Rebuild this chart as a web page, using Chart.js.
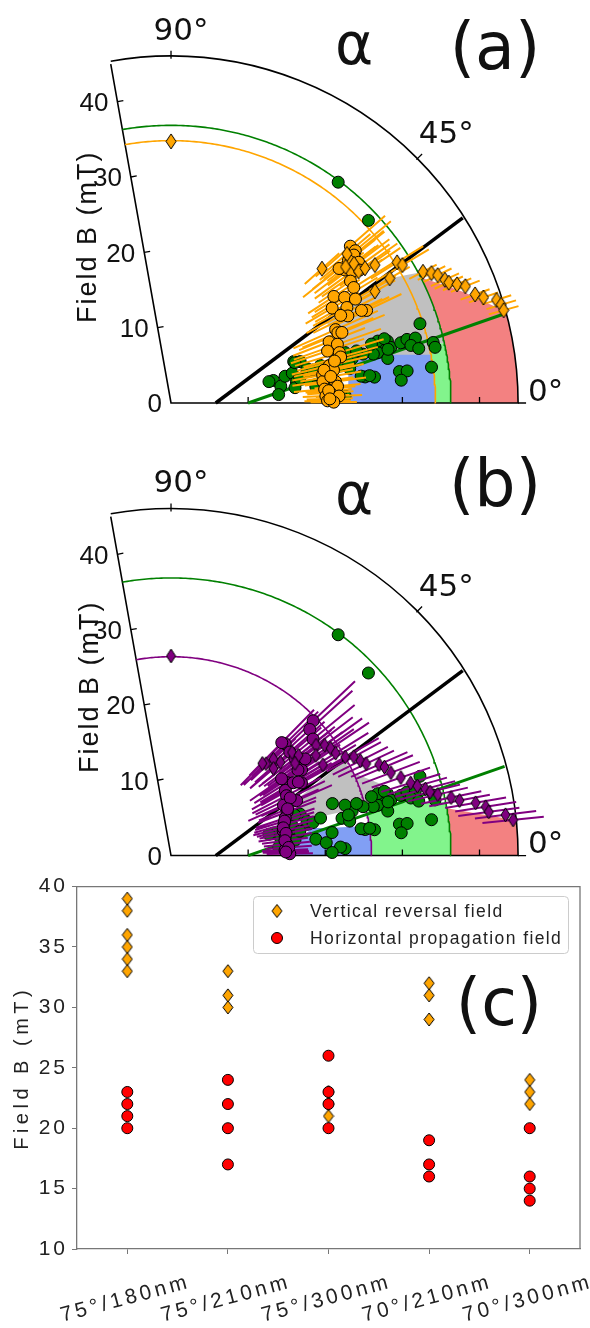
<!DOCTYPE html>
<html>
<head>
<meta charset="utf-8">
<script src="https://cdn.jsdelivr.net/npm/chart.js@4.4.1/dist/chart.umd.min.js"></script>
<style>
  html, body { margin: 0; padding: 0; background: #fff; }
  body { width: 590px; height: 1328px; position: relative; overflow: hidden; }
  canvas { position: absolute; left: 0; }
  #ca { top: 0; }
  #cb { top: 440px; }
  #cc { top: 870px; }
</style>
</head>
<body>
<canvas id="ca" width="590" height="440"></canvas>
<canvas id="cb" width="590" height="440"></canvas>
<canvas id="cc" width="590" height="458"></canvas>
<script>
// ---------------- DATA (polar: angle in degrees, field B in mT) ----------------
const radialTicks = [0, 10, 20, 30, 40];
const angleTicks = [0, 45, 90];
const rMax = 45;
const thetaMax = 100;

// fitted arcs (field B in mT)
const greenArcB = 36.3;
const orangeArcB = 34.3;
const purpleArcB = 26.0;

// straight guide lines (two end points each)
const blackLineAngle = [0, 32.6];
const blackLineB = [5.8, 44.9];
const greenLineAngle = [0, 15.1];
const greenLineB = [10.0, 44.8];

// panel (a) orange circles with radial error
const orangeCircleAngle = [41.4,39.8,39.2,39.0,37.6,38.9,36.2,37.1,35.4,34.4,32.5,33.4,31.5,29.6,30.7,28.7,26.4,25.5,26.1,24.2,23.0,22.6,21.3,19.6,18.5,16.8,15.3,13.4,11.5,10.6,7.5,8.1,5.8,5.2,3.7,2.6,2.4,0.8,0.3,27.5,14.5,12.2,9.5,4.5,1.5];
const orangeCircleB = [31.0,31.1,30.6,29.6,28.5,28.0,29.1,30.5,30.0,28.2,28.1,25.3,26.4,27.5,24.3,26.0,25.6,28.1,27.5,23.4,23.5,24.0,22.0,22.9,21.4,22.8,22.8,21.1,21.5,20.0,21.5,19.9,21.7,20.0,20.7,20.1,21.8,20.3,21.1,24.8,21.9,20.3,21.0,20.5,20.6];
const orangeCircleErr = [6,6,5,6,5,6,6,5,6,5,6,4,5,6,4,5,5,5,4,6,5,6,5,6,5,6,5,5,4,4,4,4,3,4,3,3,3,3,3,5,5,4,4,3,3];

// panel (a) orange diamonds with radial error
const orangeDiamondAngle = [90,41.9,40.5,38.2,37.5,35.3,35.0,34.3,28.9,29.9,32.1,31.0,27.7,26.7,25.8,24.4,23.6,22.7,21.8,19.8,18.8,17.7,16.7,15.7];
const orangeDiamondB = [34.2,26.3,30.0,28.8,29.9,29.8,30.7,32.0,30.2,32.7,34.6,35.0,36.9,37.8,38.4,39.0,39.3,40.2,41.1,41.9,42.8,44.3,44.7,44.8];
const orangeDiamondErr = [0,3,4,3,4,3,4,4,3,3,4,4,2,2,2,2,2,2,2,2,2,2,2,2];

// green circles (both panels)
const greenCircleAngle = [53.1,43.0,12.5,8.8,13.3,13.9,9.7,17.9,7.1,13.1,2.3,7.7,7.3,15.9,16.1,14.3,14.8,13.8,11.7,16.8,16.9,14.8,15.2,15.0,13.6,12.5,13.1,12.0,17.8,7.9,7.8,5.7,7.9,13.7,8.1,7.9,12.4,4.5,18.8,13.0,13.9,14.4,14.0,18.0,16.3,15.8,6.5,4.8,8.2,2.9,1.1,10.8,14.3,18.2,13.2,14.2,12.4,11.0,13.0,16.5];
const greenCircleB = [36.1,35.0,13.6,14.4,15.2,16.2,16.5,17.6,16.2,18.1,22.6,25.4,26.6,28.1,29.2,29.4,31.2,27.6,28.7,28.0,28.9,30.8,31.7,32.8,32.0,32.9,34.9,35.0,33.9,29.9,30.9,30.0,34.1,27.0,24.9,26.0,13.0,14.0,16.8,18.3,24.2,25.7,29.0,22.0,23.5,25.0,18.9,20.2,21.1,22.0,20.9,17.0,18.2,16.9,18.9,20.0,22.7,23.6,23.6,27.1];

// panel (b) purple circles with radial error
const purpleCircleAngle = [43.7,42.5,39.6,44.6,41.3,38.3,33.5,32.4,29.3,29.9,23.8,27.6,24.3,20.8,18.3,15.5,12.4,9.2,5.7,2.7,0.9,36.0,31.0,26.0,22.0,17.0,14.0,11.0,7.5,4.0,1.8,45.8,34.2,30.2,35.0];
const purpleCircleB = [25.5,24.4,23.9,20.8,20.5,20.5,20.3,17.8,19.4,17.1,17.8,16.9,16.0,16.1,15.6,15.2,14.9,15.0,15.1,14.8,15.4,21.5,18.5,17.2,16.3,15.4,15.0,15.2,14.9,15.3,14.9,20.6,19.9,19.1,17.5];
const purpleCircleErr = [7.5,7.5,7,6,6,6,6,5,6,5,5,5,5,4,4,4,3.5,3.5,3,3,3,6,5,5,4,4,4,3.5,3,3,3,6,6,5,5];

// panel (b) purple diamonds with radial error
const purpleDiamondAngle = [90,44.3,43.5,40.7,40.7,38.4,36.9,37.5,35.9,34.1,32.1,29.7,28.6,31.1,34.9,45.5,40.6,26.8,25.4,23.8,22.7,20.8,18.9,17.0,15.9,14.8,13.9,13.0,11.8,10.9,9.9,8.9,7.9,7.0,6.0];
const purpleDiamondB = [26.1,17.2,18.3,18.7,20.7,21.1,20.1,23.7,24.6,25.0,25.2,26.0,27.0,23.0,22.9,16.9,17.5,27.5,28.0,29.5,30.0,30.5,31.5,32.5,33.2,34.1,34.6,35.5,37.1,38.1,40.1,41.3,41.6,43.7,44.6];
const purpleDiamondErr = [0,4,4,5,5,6,5,6,6,6,5,5,4,5,6,4,4,4,4,4,4,4,4,4,4,4,4,4,4,4,4,4,4,4,4];

// shaded regions (polygon vertices: angle, B)
const grayA_angle = [15.6,10.4,13.1,12.4,28.0,28.9,30.6,28.3];
const grayA_B     = [23.0,34.3,34.3,36.3,36.3,34.5,31.5,22.8];
const blueA_angle = [0,14.1,13.5,12.7,11.5,10.6,0];
const blueA_B     = [23.0,23.7,25.7,28.7,31.6,34.3,34.3];
const lgreenA_angle = [0,13.1,12.4,0];
const lgreenA_B     = [34.3,34.3,36.3,36.3];
const redA_angle = [0,26.8,23.7,20.7,17.9,15.5,0];
const redA_B     = [36.3,36.3,38.5,40.8,42.8,45,45];

const grayB_angle = [24.5,28.8,24.5,18.1,14.7,14.4,14.9,17.6];
const grayB_B     = [18.3,25.6,26.0,29.3,26.9,23.3,19.0,17.5];
const blueB_angle = [0,6.1,11.1,10.2,8.9,8.0,0];
const blueB_B     = [15.4,16.0,18.75,20.4,24.6,26.0,26.0];
const lgreenB_angle = [0,15.2,11.1,0];
const lgreenB_B     = [26.0,26.0,36.3,36.3];
const redB_angle = [0,9.8,5.9,0];
const redB_B     = [36.3,36.3,45,45];

// panel (c)
const categories = ['75°/180nm', '75°/210nm', '75°/300nm', '70°/210nm', '70°/300nm'];
const reversalField = [[39,38,36,35,34,33],[33,31,30],[23,22,21],[32,31,29],[24,23,22]];
const propagationField = [[23,22,21,20],[24,22,20,17],[26,23,22,20],[19,17,16],[20,16,15,14]];
const yMinC = 10, yMaxC = 40, yStepC = 5;

// ---------------- helpers ----------------
const DEG = Math.PI / 180;
const S = 7.9; // px per mT in polar panels
function toXY(a, b) { return { x: b * Math.cos(a * DEG), y: b * Math.sin(a * DEG) }; }
function pts(angles, Bs) { return angles.map((a, i) => toXY(a, Bs[i])); }
function arcPts(B, a0, a1) {
  const n = Math.max(2, Math.ceil(Math.abs(a1 - a0) / 0.5) + 1), out = [];
  for (let k = 0; k < n; k++) out.push(toXY(a0 + (a1 - a0) * k / (n - 1), B));
  return out;
}
function regionPts(angles, Bs) {
  const out = [], n = angles.length;
  for (let i = 0; i < n; i++) {
    const j = (i + 1) % n;
    if (Bs[i] === Bs[j] && angles[i] !== angles[j]) {
      const arc = arcPts(Bs[i], angles[i], angles[j]);
      arc.pop();
      out.push(...arc);
    } else out.push(toXY(angles[i], Bs[i]));
  }
  out.push(out[0]);
  return out;
}
function errPts(angles, Bs, errs) {
  const out = [];
  angles.forEach((a, i) => {
    if (!errs[i]) return;
    out.push(toXY(a, Bs[i] - errs[i]), toXY(a, Bs[i] + errs[i]), { x: null, y: null });
  });
  return out;
}
function diamondImg(w, h, fill) {
  const c = document.createElement('canvas');
  c.width = w + 2; c.height = h + 2;
  const g = c.getContext('2d');
  g.beginPath();
  g.moveTo(c.width / 2, 1); g.lineTo(c.width - 1, c.height / 2);
  g.lineTo(c.width / 2, c.height - 1); g.lineTo(1, c.height / 2); g.closePath();
  g.fillStyle = fill; g.fill();
  g.lineWidth = 1; g.strokeStyle = '#000'; g.stroke();
  return c;
}
function txt(ctx, s, x, y, o) {
  ctx.save();
  ctx.translate(x, y);
  if (o.rot) ctx.rotate(o.rot * DEG);
  ctx.font = o.font; ctx.textAlign = o.align || 'left'; ctx.textBaseline = o.base || 'alphabetic';
  ctx.fillStyle = o.color || '#111';
  ctx.letterSpacing = o.ls || '0px';
  ctx.fillText(s, 0, 0);
  ctx.restore();
}

const COL = { gray: '#c0c0c0', blue: '#819ff4', lgreen: '#82f48c', red: '#f38181',
  orange: '#ffa500', green: '#008000', purple: '#800080', black: '#000000' };

// z: larger value -> drawn later (on top)
function fillDS(p, color, z, extra) { return Object.assign({ type: 'line', data: p, fill: 'shape', backgroundColor: color, borderWidth: 0, pointRadius: 0, tension: 0, order: 100 - z }, extra || {}); }
function lineDS(p, color, w, z, extra) { return Object.assign({ type: 'line', data: p, fill: false, borderColor: color, borderWidth: w, pointRadius: 0, tension: 0, order: 100 - z }, extra || {}); }
function markDS(p, style, color, r, z) { return { type: 'scatter', data: p, pointStyle: style, pointRadius: r, backgroundColor: color, borderColor: '#000', borderWidth: 1, order: 100 - z }; }

// ---------------- polar frame plugin ----------------
function P(chart, a, b) {
  return [chart.scales.x.getPixelForValue(b * Math.cos(a * DEG)), chart.scales.y.getPixelForValue(b * Math.sin(a * DEG))];
}
const polarFrame = {
  id: 'polarFrame',
  afterDatasetDraw(chart, args, o) {
    if (!chart.data.datasets[args.index].frameAfter) return;
    const ctx = chart.ctx;
    const [ox, oy] = P(chart, 0, 0);
    const R = P(chart, 0, o.rMax)[0] - ox;
    ctx.save();
    ctx.strokeStyle = '#000'; ctx.lineWidth = 1.6;
    ctx.beginPath();
    ctx.moveTo(...P(chart, o.thetaMax, o.rMax));
    ctx.lineTo(ox, oy);
    ctx.lineTo(ox + R, oy);
    ctx.arc(ox, oy, R, 0, -o.thetaMax * DEG, true);
    ctx.stroke();
    ctx.lineWidth = 1.3;
    ctx.beginPath();
    o.rTicks.forEach(r => {
      if (!r) return;
      const [bx, by] = P(chart, 0, r);
      ctx.moveTo(bx, by); ctx.lineTo(bx, by - 6);
      const [lx, ly] = P(chart, o.thetaMax, r);
      const d = (o.thetaMax - 90) * DEG;
      ctx.moveTo(lx, ly); ctx.lineTo(lx + 6 * Math.cos(d), ly - 6 * Math.sin(d));
    });
    o.aTicks.forEach(a => {
      const [tx, ty] = P(chart, a, o.rMax);
      ctx.moveTo(tx, ty); ctx.lineTo(tx + 8 * Math.cos(a * DEG), ty - 8 * Math.sin(a * DEG));
    });
    ctx.stroke();
    ctx.restore();
  },
  afterDraw(chart, args, o) {
    const ctx = chart.ctx;
    o.rTicks.forEach(r => {
      const [lx, ly] = P(chart, o.thetaMax, r);
      txt(ctx, String(r), lx - 9, ly + 9.3, { font: '26px "Liberation Sans"', align: 'right' });
    });
    o.aTicks.forEach(a => {
      const pos = o.aLabelPos[a];
      const [cx, cy] = P(chart, pos[0], pos[1]);
      txt(ctx, a + '°', cx, cy + 11.3, { font: '31px "DejaVu Sans"', align: 'center' });
    });
    txt(ctx, o.panel, o.panelPos[0], o.panelPos[1], { font: '65px "DejaVu Sans"', align: 'center' });
    txt(ctx, 'α', o.alphaPos[0], o.alphaPos[1], { font: '58px "DejaVu Sans"', align: 'center' });
    txt(ctx, 'Field B (mT)', o.titlePos[0], o.titlePos[1], { font: '27px "Liberation Sans"', rot: -90, ls: '2px' });
  }
};

const aLabelPos = { 90: [88.5, 49], 45: [44.8, 50.3], 0: [2.1, 48.6] };

function polarChart(id, originY, height, datasets, extra) {
  const W = 590, OX = 168;
  return new Chart(document.getElementById(id), {
    type: 'scatter',
    data: { datasets },
    options: {
      responsive: false, animation: false, events: [],
      layout: { padding: 0 },
      scales: {
        x: { type: 'linear', display: false, min: -OX / S, max: (W - OX) / S },
        y: { type: 'linear', display: false, min: -(height - originY) / S, max: originY / S }
      },
      plugins: {
        legend: { display: false }, tooltip: { enabled: false },
        polarFrame: Object.assign({ rMax, thetaMax, rTicks: radialTicks, aTicks: angleTicks, aLabelPos }, extra)
      }
    },
    plugins: [polarFrame]
  });
}

const diamondOrangeA = diamondImg(10, 15, COL.orange);
const diamondPurple = diamondImg(9, 14, COL.purple);
const diamondOrangeC = diamondImg(10, 13, COL.orange);

// ---------------- panel (a) ----------------
polarChart('ca', 409, 440, [
  fillDS(regionPts(grayA_angle, grayA_B), COL.gray, 1),
  fillDS(regionPts(blueA_angle, blueA_B), COL.blue, 2),
  fillDS(regionPts(lgreenA_angle, lgreenA_B), COL.lgreen, 3),
  fillDS(regionPts(redA_angle, redA_B), COL.red, 4, { frameAfter: true }),
  lineDS(arcPts(greenArcB, 0, thetaMax), COL.green, 1.6, 5),
  lineDS(arcPts(orangeArcB, 0, thetaMax), COL.orange, 1.6, 6),
  lineDS(pts(greenLineAngle, greenLineB), COL.green, 3, 7),
  lineDS(pts(blackLineAngle, blackLineB), COL.black, 3.5, 8),
  markDS(pts(greenCircleAngle, greenCircleB), 'circle', COL.green, 6, 9),
  lineDS(errPts(orangeCircleAngle, orangeCircleB, orangeCircleErr), COL.orange, 2, 10),
  lineDS(errPts(orangeDiamondAngle, orangeDiamondB, orangeDiamondErr), COL.orange, 2, 11),
  markDS(pts(orangeCircleAngle, orangeCircleB), 'circle', COL.orange, 6, 12),
  markDS(pts(orangeDiamondAngle, orangeDiamondB), diamondOrangeA, COL.orange, 6, 13)
], { panel: '(a)', panelPos: [495, 69], alphaPos: [354, 64], titlePos: [96, 323] });

// ---------------- panel (b) ----------------
polarChart('cb', 422, 440, [
  fillDS(regionPts(grayB_angle, grayB_B), COL.gray, 1),
  fillDS(regionPts(blueB_angle, blueB_B), COL.blue, 2),
  fillDS(regionPts(lgreenB_angle, lgreenB_B), COL.lgreen, 3),
  fillDS(regionPts(redB_angle, redB_B), COL.red, 4, { frameAfter: true }),
  lineDS(arcPts(greenArcB, 0, thetaMax), COL.green, 1.6, 5),
  lineDS(arcPts(purpleArcB, 0, thetaMax), COL.purple, 1.6, 6),
  lineDS(pts(greenLineAngle, greenLineB), COL.green, 3, 7),
  lineDS(pts(blackLineAngle, blackLineB), COL.black, 3.5, 8),
  markDS(pts(greenCircleAngle, greenCircleB), 'circle', COL.green, 6, 9),
  lineDS(errPts(purpleCircleAngle, purpleCircleB, purpleCircleErr), COL.purple, 2, 10),
  lineDS(errPts(purpleDiamondAngle, purpleDiamondB, purpleDiamondErr), COL.purple, 2, 11),
  markDS(pts(purpleCircleAngle, purpleCircleB), 'circle', COL.purple, 6, 12),
  markDS(pts(purpleDiamondAngle, purpleDiamondB), diamondPurple, COL.purple, 6, 13)
], { panel: '(b)', panelPos: [495, 66], alphaPos: [354, 74], titlePos: [98, 333] });

// ---------------- panel (c) ----------------
const revPts = [], propPts = [];
categories.forEach((c, i) => {
  reversalField[i].forEach(v => revPts.push({ x: c, y: v }));
  propagationField[i].forEach(v => propPts.push({ x: c, y: v }));
});

const panelC = {
  id: 'panelC',
  beforeDraw(chart) { chart.ctx.letterSpacing = '3px'; },
  afterDraw(chart) {
    const ctx = chart.ctx, a = chart.chartArea, xs = chart.scales.x;
    ctx.save();
    ctx.strokeStyle = '#777'; ctx.lineWidth = 1.3;
    ctx.beginPath(); ctx.moveTo(a.left, a.top); ctx.lineTo(a.right, a.top); ctx.lineTo(a.right, a.bottom); ctx.stroke();
    ctx.restore();
    // category labels
    chart.data.labels.forEach((lab, i) => {
      const px = xs.getPixelForTick(i);
      txt(ctx, lab, px - 2, 429, { font: '21px "Liberation Sans"', align: 'center', base: 'middle', rot: -15, ls: '3.5px', color: '#222' });
    });
    // axis title
    txt(ctx, 'Field B (mT)', 28, (a.top + a.bottom) / 2, { font: '20px "Liberation Sans"', align: 'center', rot: -90, ls: '4.5px', color: '#222' });
    // panel label
    txt(ctx, '(c)', 499, 155, { font: '65px "DejaVu Sans"', align: 'center' });
    // legend
    const lx = 253, ly = 26, lw = 315, lh = 57;
    ctx.save();
    ctx.fillStyle = '#fff'; ctx.strokeStyle = '#cccccc'; ctx.lineWidth = 1;
    ctx.beginPath(); ctx.roundRect(lx + 0.5, ly + 0.5, lw, lh, 4); ctx.fill(); ctx.stroke();
    ctx.restore();
    const ds = chart.data.datasets;
    ctx.drawImage(diamondOrangeC, 277 - diamondOrangeC.width / 2, ly + 15 - diamondOrangeC.height / 2);
    ctx.save();
    ctx.beginPath(); ctx.arc(277, ly + 42, 5.5, 0, Math.PI * 2);
    ctx.fillStyle = ds[1].backgroundColor; ctx.fill(); ctx.strokeStyle = '#000'; ctx.lineWidth = 1; ctx.stroke();
    ctx.restore();
    txt(ctx, ds[0].label, 310, ly + 15 + 6, { font: '17.5px "Liberation Sans"', ls: '1.4px', color: '#222' });
    txt(ctx, ds[1].label, 310, ly + 42 + 6, { font: '17.5px "Liberation Sans"', ls: '1.4px', color: '#222' });
  }
};

new Chart(document.getElementById('cc'), {
  type: 'scatter',
  data: {
    labels: categories,
    datasets: [
      { label: 'Vertical reversal field', data: revPts, pointStyle: diamondOrangeC, pointRadius: 6, backgroundColor: COL.orange, borderColor: '#000', order: 2 },
      { label: 'Horizontal propagation field', data: propPts, pointStyle: 'circle', pointRadius: 5.5, backgroundColor: '#ff0000', borderColor: '#000', borderWidth: 1, order: 1 }
    ]
  },
  options: {
    responsive: false, animation: false, events: [],
    layout: { padding: { left: 0, right: 10, top: 16, bottom: 0 } },
    scales: {
      x: {
        type: 'category', offset: true,
        grid: { display: true, drawOnChartArea: false, drawTicks: true, tickLength: 5, color: '#777', offset: false },
        border: { display: true, color: '#777', width: 1.3 },
        ticks: { display: false },
        afterFit(s) { s.height = 79; }
      },
      y: {
        type: 'linear', min: yMinC, max: yMaxC,
        ticks: { stepSize: yStepC, font: { family: '"Liberation Sans", Arial, sans-serif', size: 21 }, color: '#222', padding: 4 },
        grid: { display: true, drawOnChartArea: false, drawTicks: true, tickLength: 5, color: '#777' },
        border: { display: true, color: '#777', width: 1.3 },
        afterFit(s) { s.width = 77; }
      }
    },
    plugins: { legend: { display: false }, tooltip: { enabled: false } }
  },
  plugins: [panelC]
});
</script>
</body>
</html>
